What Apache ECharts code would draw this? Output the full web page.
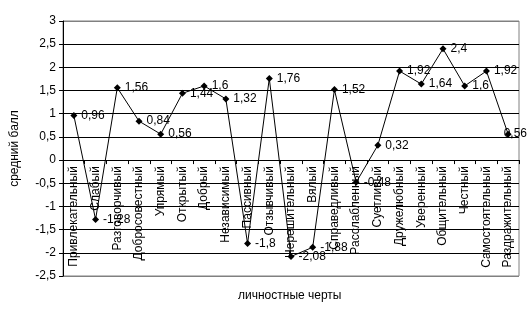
<!DOCTYPE html>
<html><head><meta charset="utf-8">
<script src="https://cdn.jsdelivr.net/npm/echarts@6/dist/echarts.min.js"></script>
<style>html,body{margin:0;padding:0;background:#fff}#c{width:530px;height:317px}</style>
</head><body><div id="c"></div>
<script>
var categories = ["Привлекательный","Слабый","Разговорчивый","Добросовестный","Упрямый","Открытый","Добрый","Независимый","Пассивный","Отзывчивый","Нерешительный","Вялый","Справедливый","Расслабленный","Суетливый","Дружелюбный","Уверенный","Общительный","Честный","Самостоятельный","Раздражительный"];
var values = [0.96,-1.28,1.56,0.84,0.56,1.44,1.6,1.32,-1.8,1.76,-2.08,-1.88,1.52,-0.48,0.32,1.92,1.64,2.4,1.6,1.92,0.56];
var yTicks = {min:-2.5, max:3, interval:0.5};
var yTitle = "средний балл";
var xTitle = "личностные черты";

var font = "Liberation Sans, Arial, sans-serif";
var gridTop = 21, gridBottom = 41, H = 317;
var plotH = H - gridTop - gridBottom;
// shift the category axis up from the plot bottom to the value 0 line
var zeroShift = plotH * (0 - yTicks.min) / (yTicks.max - yTicks.min);
var chart = echarts.init(document.getElementById('c'));
var splitColors = [];
for (var i = 0; i < 12; i++) splitColors.push(i === 0 || i === 11 ? '#808080' : '#000');
var seriesData = values.map(function(v, i){
  if (i === values.length - 1) return {value: v, label: {distance: -8}};
  return v;
});
chart.setOption({
  animation: false,
  grid: {left: 63, right: 11, top: gridTop, bottom: gridBottom, containLabel: false, outerBoundsMode: 'none',
    show: true, borderColor: '#808080', borderWidth: 1},
  xAxis: {
    type: 'category', data: categories, position: 'bottom', offset: -zeroShift,
    axisLine: {onZero: false, lineStyle: {color: '#000', width: 1}},
    axisTick: {show: true, length: 4, lineStyle: {color: '#000'}},
    axisLabel: {rotate: 90, color: '#000', fontSize: 12, fontFamily: font, margin: 6, interval: 0,
      hideOverlap: false, overflow: 'none'}
  },
  yAxis: {
    type: 'value', min: yTicks.min, max: yTicks.max, interval: yTicks.interval,
    name: yTitle, nameLocation: 'middle', nameGap: 42, nameRotate: 90,
    nameTextStyle: {color: '#000', fontSize: 12, fontFamily: font},
    axisLine: {show: true, onZero: false, lineStyle: {color: '#000'}},
    axisTick: {show: true, length: 4, lineStyle: {color: '#000'}},
    axisLabel: {color: '#000', fontSize: 12, fontFamily: font, margin: 7,
      formatter: function(v){ return String(v).replace('.', ','); }},
    splitLine: {show: true, lineStyle: {color: splitColors, width: 1}}
  },
  graphic: [{type: 'text', left: 238, top: 290,
    style: {text: xTitle, fill: '#000', font: '12px ' + font}}],
  series: [{
    type: 'line', data: seriesData,
    symbol: 'diamond', symbolSize: 7,
    lineStyle: {color: '#000', width: 1},
    itemStyle: {color: '#000'},
    label: {show: true, position: 'right', distance: 4, color: '#000', fontSize: 12, fontFamily: font,
      formatter: function(p){ return String(p.value).replace('.', ','); }}
  }]
});
</script></body></html>
